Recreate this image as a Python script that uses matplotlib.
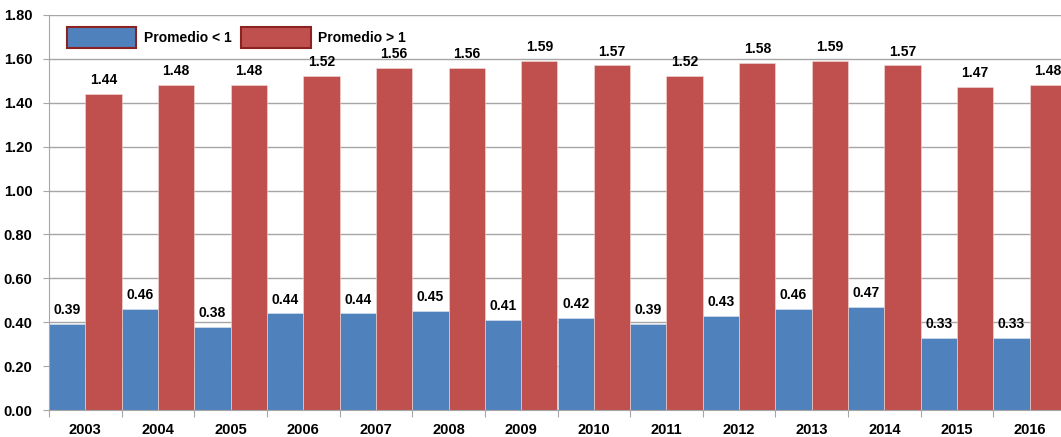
import numpy as np
import matplotlib.pyplot as plt
from matplotlib.ticker import FixedLocator, NullFormatter

plt.rcParams['font.family'] = ['Liberation Sans', 'DejaVu Sans']
plt.rcParams['font.weight'] = 'bold'

years = ['2003', '2004', '2005', '2006', '2007', '2008', '2009',
         '2010', '2011', '2012', '2013', '2014', '2015', '2016']
menor = [0.39, 0.46, 0.38, 0.44, 0.44, 0.45, 0.41, 0.42, 0.39, 0.43, 0.46, 0.47, 0.33, 0.33]
mayor = [1.44, 1.48, 1.48, 1.52, 1.56, 1.56, 1.59, 1.57, 1.52, 1.58, 1.59, 1.57, 1.47, 1.48]

blue = '#4F81BD'
red = '#C0504D'
edge = '#8B2323'

fig = plt.figure(figsize=(10.61, 4.37), dpi=100)
ax = fig.add_axes([49 / 1061, 27 / 437, (1066 - 49) / 1061, (410 - 15) / 437])

x = np.arange(len(years))
b1 = ax.bar(x, menor, width=0.5, align='edge', color=blue, edgecolor='#dfe6f0', linewidth=0.4,
            label='Promedio < 1', zorder=2)
b2 = ax.bar(x + 0.5, mayor, width=0.5, align='edge', color=red, edgecolor='#f0dcdc', linewidth=0.4,
            label='Promedio > 1', zorder=2)

for bars, vals in [(b1, menor), (b2, mayor)]:
    for r, v in zip(bars, vals):
        ax.annotate(f'{v:.2f}', (r.get_x() + r.get_width() / 2, v), xytext=(0, 5),
                    textcoords='offset points', ha='center', va='bottom',
                    fontsize=10, fontweight='bold', zorder=3)

ax.set_xlim(0, len(years))
ax.set_ylim(0, 1.8)
ax.set_yticks(np.arange(0, 1.81, 0.2))
ax.set_yticklabels([f'{t:.2f}' for t in np.arange(0, 1.81, 0.2)], fontsize=10.5, fontweight='bold')
ax.yaxis.grid(True, color='#a6a6a6', linewidth=1, zorder=0)
ax.set_axisbelow(True)

ax.xaxis.set_major_locator(FixedLocator(x))
ax.xaxis.set_major_formatter(NullFormatter())
ax.xaxis.set_minor_locator(FixedLocator(x + 0.5))
ax.set_xticklabels(years, minor=True, fontsize=10.5, fontweight='bold')
ax.tick_params(axis='x', which='major', length=5, color='#a6a6a6')
ax.tick_params(axis='x', which='minor', length=0, pad=9)
ax.tick_params(axis='y', length=4, color='#a6a6a6', pad=8)

for s in ['top', 'right']:
    ax.spines[s].set_visible(False)
ax.spines['left'].set_color('#a6a6a6')
ax.spines['bottom'].set_color('#a6a6a6')

h1 = plt.Rectangle((0, 0), 1, 1, facecolor=blue, edgecolor=edge, linewidth=1.5)
h2 = plt.Rectangle((0, 0), 1, 1, facecolor=red, edgecolor=edge, linewidth=1.5)
ax.legend([h1, h2], ['Promedio < 1', 'Promedio > 1'], loc='upper left', ncol=2,
          frameon=False, handlelength=5.0, handleheight=1.9, handletextpad=0.55,
          columnspacing=0.7, bbox_to_anchor=(0.005, 1.0),
          prop={'size': 10, 'weight': 'bold'})

fig.savefig('out.png', dpi=100)
